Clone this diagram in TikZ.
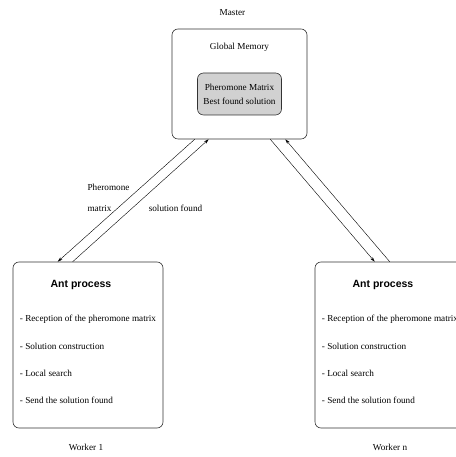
\documentclass[tikz,border=0pt]{standalone}
\usepackage{fontspec}
\setmainfont{Liberation Serif}
\newfontfamily\headfont{Liberation Sans}
\usetikzlibrary{arrows.meta, positioning}

\begin{document}
\begin{tikzpicture}[
        x=1pt, y=1pt,
        font=\fontsize{9.2}{11}\selectfont,
        box/.style={rectangle, draw=black!80, semithick, rounded corners=6pt, inner sep=0pt},
        memory/.style={box, fill=black!18, minimum width=84pt, minimum height=42pt, align=center, font=\fontsize{9.2}{14}\selectfont},
        worker/.style={box, minimum width=150pt, minimum height=166pt},
        title/.style={font=\headfont\bfseries\fontsize{10.5}{12}\selectfont},
        item/.style={anchor=west, inner sep=0pt},
        arrow/.style={-{Stealth[length=5pt, width=3pt]}, thin}
    ]
        \useasboundingbox (0,0) rectangle (455,457);

        % Master
        \node[box, minimum width=135pt, minimum height=110pt] (master) at (239.5,373) {};
        \node[above=10pt of master, xshift=-7pt] (masterlabel) {Master};
        \node[below=11pt of master.north] (global) {Global Memory};
        \node[memory] (matrix) at ([yshift=-10pt]master.center) {Pheromone Matrix\\Best found solution};

        % Workers
        \node[worker] (w1) at (88,112) {};
        \node[worker] (wn) at (390,112) {};
        \foreach \w in {w1, wn} {
            \node[title] (\w-title) at ([xshift=-7pt, yshift=-23pt]\w.north) {Ant process};
            \foreach \txt [count=\i] in {Reception of the pheromone matrix, Solution construction, Local search, Send the solution found}
                \node[item] (\w-item\i) at ([xshift=7pt, yshift={(-31-27*\i)*1pt}]\w.north west) {- \txt};
        }
        \node[below=12pt of w1, xshift=-2pt] (w1label) {Worker 1};
        \node[below=12pt of wn] (wnlabel) {Worker n};

        % Arrows
        \draw[arrow] ([xshift=23pt]master.south west) -- ([xshift=45pt]w1.north west);
        \draw[arrow] ([xshift=60pt]w1.north west) -- ([xshift=37pt]master.south west);
        \draw[arrow] ([xshift=-37pt]master.south east) -- ([xshift=60pt]wn.north west);
        \draw[arrow] ([xshift=75pt]wn.north west) -- ([xshift=-22pt]master.south east);

        % Labels
        \node[align=left, font=\fontsize{9.2}{21}\selectfont] (phlabel) at (108.5,259.5) {Pheromone\\matrix};
        \node (sollabel) at (175.5,249) {solution found};
    \end{tikzpicture}
\end{document}
